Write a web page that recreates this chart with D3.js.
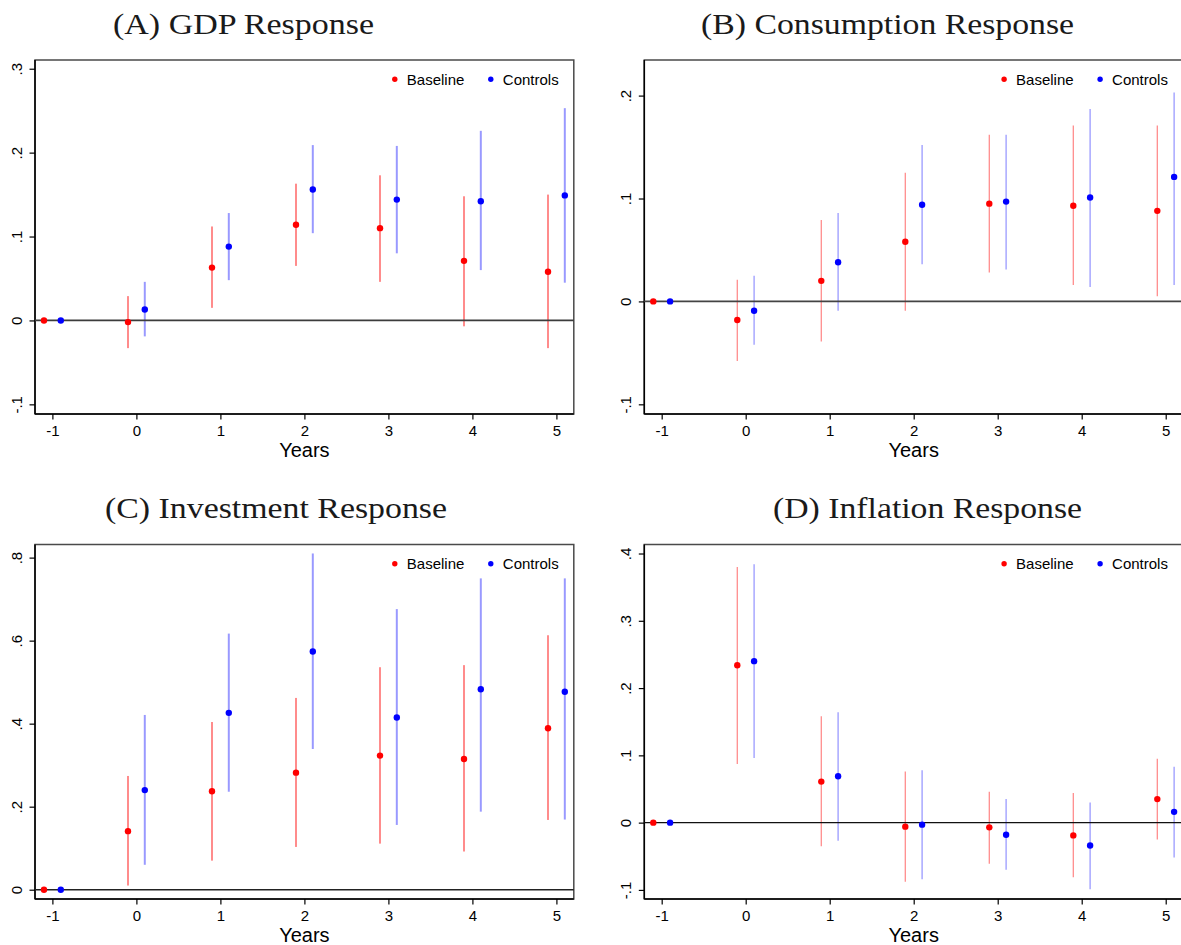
<!DOCTYPE html>
<html><head><meta charset="utf-8">
<script src="https://cdn.jsdelivr.net/npm/d3@7"></script>
<style>
html,body{margin:0;padding:0;background:#fff;overflow:hidden;}
svg{display:block;}
</style></head>
<body>
<svg id="chart" width="1181" height="945"></svg>
<script>
// ---------------- DATA ----------------
const years = [-1, 0, 1, 2, 3, 4, 5];
const seriesNames = ["Baseline", "Controls"];
const xTickLabels = ["-1", "0", "1", "2", "3", "4", "5"];

// (A) GDP
const gdpBase   = [0, -0.002, 0.063, 0.114, 0.110, 0.071, 0.058];
const gdpBaseLo = [0, -0.033, 0.015, 0.065, 0.046, -0.007, -0.033];
const gdpBaseHi = [0, 0.029, 0.112, 0.163, 0.173, 0.148, 0.150];
const gdpCtrl   = [0, 0.013, 0.088, 0.156, 0.144, 0.142, 0.149];
const gdpCtrlLo = [0, -0.019, 0.048, 0.104, 0.080, 0.060, 0.045];
const gdpCtrlHi = [0, 0.046, 0.128, 0.209, 0.208, 0.226, 0.253];
const gdpTicks = [-0.1, 0, 0.1, 0.2, 0.3];
const gdpTickLabels = ["-.1", "0", ".1", ".2", ".3"];

// (B) Consumption
const consBase   = [0, -0.018, 0.020, 0.058, 0.095, 0.093, 0.088];
const consBaseLo = [0, -0.058, -0.039, -0.009, 0.028, 0.016, 0.005];
const consBaseHi = [0, 0.021, 0.079, 0.125, 0.162, 0.171, 0.171];
const consCtrl   = [0, -0.009, 0.038, 0.094, 0.097, 0.101, 0.121];
const consCtrlLo = [0, -0.042, -0.009, 0.036, 0.031, 0.014, 0.016];
const consCtrlHi = [0, 0.025, 0.086, 0.152, 0.162, 0.187, 0.203];
const consTicks = [-0.1, 0, 0.1, 0.2];
const consTickLabels = ["-.1", "0", ".1", ".2"];

// (C) Investment
const invBase   = [0, 0.141, 0.237, 0.282, 0.323, 0.315, 0.389];
const invBaseLo = [0, 0.010, 0.070, 0.103, 0.111, 0.092, 0.168];
const invBaseHi = [0, 0.274, 0.404, 0.462, 0.536, 0.541, 0.613];
const invCtrl   = [0, 0.240, 0.426, 0.574, 0.415, 0.483, 0.477];
const invCtrlLo = [0, 0.060, 0.236, 0.339, 0.156, 0.188, 0.169];
const invCtrlHi = [0, 0.421, 0.617, 0.810, 0.676, 0.750, 0.750];
const invTicks = [0, 0.2, 0.4, 0.6, 0.8];
const invTickLabels = ["0", ".2", ".4", ".6", ".8"];

// (D) Inflation
const inflBase   = [0, 0.234, 0.061, -0.006, -0.007, -0.019, 0.035];
const inflBaseLo = [0, 0.087, -0.035, -0.088, -0.061, -0.081, -0.025];
const inflBaseHi = [0, 0.380, 0.158, 0.076, 0.046, 0.044, 0.095];
const inflCtrl   = [0, 0.240, 0.069, -0.003, -0.018, -0.034, 0.016];
const inflCtrlLo = [0, 0.096, -0.027, -0.084, -0.070, -0.099, -0.052];
const inflCtrlHi = [0, 0.384, 0.164, 0.078, 0.035, 0.030, 0.083];
const inflTicks = [-0.1, 0, 0.1, 0.2, 0.3, 0.4];
const inflTickLabels = ["-.1", "0", ".1", ".2", ".3", ".4"];

const titles = ["(A) GDP Response", "(B) Consumption Response", "(C) Investment Response", "(D) Inflation Response"];

// ---------------- LAYOUT ----------------
const panels = [
  {title: titles[0], base: gdpBase, baseLo: gdpBaseLo, baseHi: gdpBaseHi, ctrl: gdpCtrl, ctrlLo: gdpCtrlLo, ctrlHi: gdpCtrlHi,
   ticks: gdpTicks, tickLabels: gdpTickLabels, ydom: [-0.1115, 0.3104],
   left: 35, top: 60, bottom: 414, titleX: 243.5, titleY: 33.5, titleW: 261, ciW: 2, zeroC: "#3c3c3c", zeroW: 1.8},
  {title: titles[1], base: consBase, baseLo: consBaseLo, baseHi: consBaseHi, ctrl: consCtrl, ctrlLo: consCtrlLo, ctrlHi: consCtrlHi,
   ticks: consTicks, tickLabels: consTickLabels, ydom: [-0.1094, 0.2346],
   left: 644.3, top: 60, bottom: 414, titleX: 887.5, titleY: 33.5, titleW: 373, ciW: 1.3, zeroC: "#444", zeroW: 1.8},
  {title: titles[2], base: invBase, baseLo: invBaseLo, baseHi: invBaseHi, ctrl: invCtrl, ctrlLo: invCtrlLo, ctrlHi: invCtrlHi,
   ticks: invTicks, tickLabels: invTickLabels, ydom: [-0.0224, 0.8316],
   left: 35, top: 544.5, bottom: 899, titleX: 276, titleY: 518, titleW: 342, ciW: 2, zeroC: "#222", zeroW: 1.5},
  {title: titles[3], base: inflBase, baseLo: inflBaseLo, baseHi: inflBaseHi, ctrl: inflCtrl, ctrlLo: inflCtrlLo, ctrlHi: inflCtrlHi,
   ticks: inflTicks, tickLabels: inflTickLabels, ydom: [-0.1135, 0.4134],
   left: 644.3, top: 544.5, bottom: 899, titleX: 927.5, titleY: 518, titleW: 309, ciW: 1.3, zeroC: "#111", zeroW: 1.4}
];

const plotW = 538.8;
const xDom = [-1.207, 5.207];
const offset = 0.1;
const red = "#ff0000", blue = "#0000ff";
const sans = "'Liberation Sans', Arial, Helvetica, sans-serif";

const svg = d3.select("#chart");
svg.append("rect").attr("width", 1181).attr("height", 945).attr("fill", "#fff");

panels.forEach(p => {
  const g = svg.append("g");
  const x = d3.scaleLinear().domain(xDom).range([p.left, p.left + plotW]);
  const y = d3.scaleLinear().domain(p.ydom).range([p.bottom, p.top]);
  const right = p.left + plotW;

  // title
  g.append("text").attr("x", p.titleX).attr("y", p.titleY)
    .attr("text-anchor", "middle")
    .attr("font-family", "'Liberation Serif', 'Times New Roman', serif")
    .attr("font-size", 30)
    .attr("textLength", p.titleW).attr("lengthAdjust", "spacingAndGlyphs")
    .attr("fill", "#1a1a1a")
    .text(p.title);

  // plot region outline
  g.append("rect").attr("x", p.left).attr("y", p.top)
    .attr("width", plotW).attr("height", p.bottom - p.top)
    .attr("fill", "none").attr("stroke", "#4a4a4a").attr("stroke-width", 1.5);

  // y axis
  const yAxis = d3.axisLeft(y).tickValues(p.ticks)
    .tickFormat((d, i) => p.tickLabels[i]).tickSize(5.5).tickSizeOuter(0);
  const ya = g.append("g").attr("transform", `translate(${p.left},0)`).call(yAxis);
  ya.select(".domain").attr("stroke", "#000").attr("stroke-width", 1.5)
    .attr("d", `M0,${p.bottom}V${p.top}`);
  ya.selectAll(".tick line").attr("stroke", "#000").attr("stroke-width", 1.2);
  ya.selectAll(".tick text")
    .attr("font-family", sans).attr("font-size", 15).attr("fill", "#000")
    .attr("x", 0).attr("dy", null).attr("y", 0)
    .attr("text-anchor", "middle")
    .attr("transform", "translate(-13.5,0) rotate(-90)");

  // x axis
  const xAxis = d3.axisBottom(x).tickValues(years)
    .tickFormat((d, i) => xTickLabels[i]).tickSize(5.5).tickSizeOuter(0);
  const xa = g.append("g").attr("transform", `translate(0,${p.bottom})`).call(xAxis);
  xa.select(".domain").attr("stroke", "#000").attr("stroke-width", 1.5)
    .attr("d", `M${p.left},0H${right}`);
  xa.selectAll(".tick line").attr("stroke", "#000").attr("stroke-width", 1.2);
  xa.selectAll(".tick text")
    .attr("font-family", sans).attr("font-size", 15).attr("fill", "#000")
    .attr("dy", null).attr("y", 21.5);

  // x axis title
  g.append("text").attr("x", (p.left + right) / 2).attr("y", p.bottom + 43)
    .attr("text-anchor", "middle").attr("font-family", sans).attr("font-size", 20)
    .attr("fill", "#000").text("Years");

  const groups = [
    {v: p.base, lo: p.baseLo, hi: p.baseHi, dx: -offset, c: red, op: 0.45},
    {v: p.ctrl, lo: p.ctrlLo, hi: p.ctrlHi, dx: offset, c: blue, op: 0.4}
  ];

  // CI lines
  groups.forEach(s => {
    g.append("g").selectAll("line")
      .data(years.map((t, i) => ({t, lo: s.lo[i], hi: s.hi[i]})).filter(d => d.hi !== d.lo))
      .join("line")
      .attr("x1", d => x(d.t + s.dx)).attr("x2", d => x(d.t + s.dx))
      .attr("y1", d => y(d.lo)).attr("y2", d => y(d.hi))
      .attr("stroke", s.c).attr("stroke-opacity", s.op).attr("stroke-width", p.ciW);
  });

  // zero line
  g.append("line").attr("x1", p.left).attr("x2", right)
    .attr("y1", y(0)).attr("y2", y(0))
    .attr("stroke", p.zeroC).attr("stroke-width", p.zeroW);

  // points
  groups.forEach(s => {
    g.append("g").selectAll("circle")
      .data(years.map((t, i) => ({t, v: s.v[i]})))
      .join("circle")
      .attr("cx", d => x(d.t + s.dx)).attr("cy", d => y(d.v))
      .attr("r", 3.2).attr("fill", s.c);
  });

  // legend
  const ly = p.top + 19.3;
  const lx = right - 179;
  const leg = [{name: seriesNames[0], c: red, x: lx}, {name: seriesNames[1], c: blue, x: lx + 96}];
  leg.forEach(l => {
    g.append("circle").attr("cx", l.x).attr("cy", ly).attr("r", 2.7).attr("fill", l.c);
    g.append("text").attr("x", l.x + 12).attr("y", ly + 5.4)
      .attr("font-family", sans).attr("font-size", 15).attr("fill", "#000").text(l.name);
  });
});
</script>
</body></html>
